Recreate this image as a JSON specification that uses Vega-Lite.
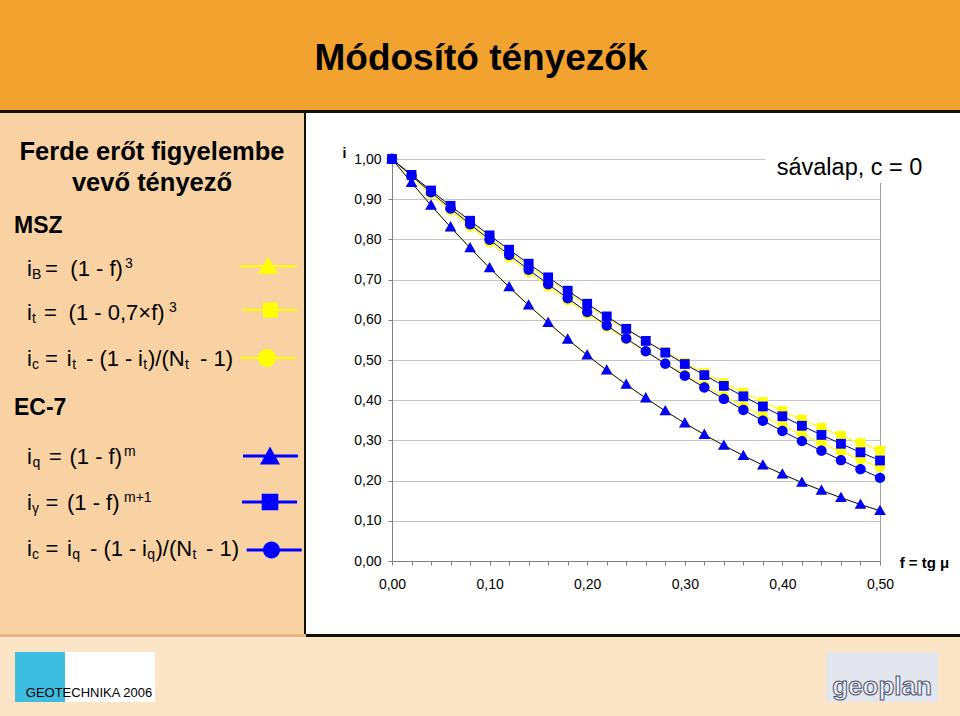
{
"$schema": "https://vega.github.io/schema/vega-lite/v6.json",
"padding": 0,
"background": "#FFFFFF",
"spacing": 0,
"bounds": "full",
"config": {
  "view": {"stroke": null},
  "concat": {"spacing": 0},
  "text": {"font": "Liberation Sans", "fontSize": 22, "align": "left", "baseline": "alphabetic", "color": "#000000"},
  "axis": {"labelFont": "Liberation Sans", "titleFont": "Liberation Sans"}
},
"vconcat": [
  {"width": 960, "height": 110, "view": {"fill": "#F2A22E"},
   "data": {"values": [{"t": "Módosító tényezők"}]},
   "mark": {"type": "text", "align": "center", "fontSize": 37, "fontWeight": "bold", "dy": 15, "dx": 1},
   "encoding": {"text": {"field": "t"}}},
  {"width": 960, "height": 3, "view": {"fill": "#141008"}, "data": {"values": []}, "mark": {"type": "point", "opacity": 0}},
  {"hconcat": [
    {"width": 304, "height": 521, "view": {"fill": "#F9D2A3"},
     "encoding": {"y": {"field": "row", "type": "quantitative", "scale": {"domain": [-2.601, 8.691], "reverse": true, "nice": false, "zero": false}, "axis": null}},
     "layer": [
       {"encoding": {"text": {"field": "t"}},
        "layer": [
          {"data": {"values": [{"row": -1, "t": "Ferde erőt figyelembe\nvevő tényező"}]}, "mark": {"type": "text", "align": "center", "fontSize": 25.5, "fontWeight": "bold", "lineBreak": "\n", "lineHeight": 31.5, "dy": -27}},
          {"data": {"values": [{"row": 0, "t": "MSZ"}]}, "mark": {"type": "text", "fontSize": 23, "fontWeight": "bold", "dx": -138}},
          {"data": {"values": [{"row": 1, "t": "i"}]}, "mark": {"type": "text", "dx": -125, "dy": -3}},
          {"data": {"values": [{"row": 1, "t": "B"}]}, "mark": {"type": "text", "fontSize": 14, "dx": -120, "dy": 0}},
          {"data": {"values": [{"row": 1, "t": "="}]}, "mark": {"type": "text", "dx": -107, "dy": -3}},
          {"data": {"values": [{"row": 1, "t": "(1 - f)"}]}, "mark": {"type": "text", "dx": -81.7, "dy": -3}},
          {"data": {"values": [{"row": 1, "t": "3"}]}, "mark": {"type": "text", "fontSize": 14, "dx": -27, "dy": -11}},
          {"data": {"values": [{"row": 2, "t": "i"}]}, "mark": {"type": "text", "dx": -125, "dy": -5}},
          {"data": {"values": [{"row": 2, "t": "t"}]}, "mark": {"type": "text", "fontSize": 14, "dx": -120, "dy": -2}},
          {"data": {"values": [{"row": 2, "t": "="}]}, "mark": {"type": "text", "dx": -108, "dy": -5}},
          {"data": {"values": [{"row": 2, "t": "(1 - 0,7×f)"}]}, "mark": {"type": "text", "dx": -83.4, "dy": -5}},
          {"data": {"values": [{"row": 2, "t": "3"}]}, "mark": {"type": "text", "fontSize": 14, "dx": 17, "dy": -13}},
          {"data": {"values": [{"row": 3, "t": "i"}]}, "mark": {"type": "text", "dx": -125, "dy": -5}},
          {"data": {"values": [{"row": 3, "t": "c"}]}, "mark": {"type": "text", "fontSize": 14, "dx": -120, "dy": -2}},
          {"data": {"values": [{"row": 3, "t": "="}]}, "mark": {"type": "text", "dx": -107, "dy": -5}},
          {"data": {"values": [{"row": 3, "t": "i"}]}, "mark": {"type": "text", "dx": -85.2, "dy": -5}},
          {"data": {"values": [{"row": 3, "t": "t"}]}, "mark": {"type": "text", "fontSize": 14, "dx": -79.8, "dy": -2}},
          {"data": {"values": [{"row": 3, "t": "- (1 -"}]}, "mark": {"type": "text", "dx": -66, "dy": -5}},
          {"data": {"values": [{"row": 3, "t": "i"}]}, "mark": {"type": "text", "dx": -14, "dy": -5}},
          {"data": {"values": [{"row": 3, "t": "t"}]}, "mark": {"type": "text", "fontSize": 14, "dx": -8.8, "dy": -2}},
          {"data": {"values": [{"row": 3, "t": ")/(N"}]}, "mark": {"type": "text", "dx": -4, "dy": -5}},
          {"data": {"values": [{"row": 3, "t": "t"}]}, "mark": {"type": "text", "fontSize": 14, "dx": 33, "dy": -2}},
          {"data": {"values": [{"row": 3, "t": "- 1)"}]}, "mark": {"type": "text", "dx": 48, "dy": -5}},
          {"data": {"values": [{"row": 4, "t": "EC-7"}]}, "mark": {"type": "text", "fontSize": 23, "fontWeight": "bold", "dx": -138, "dy": -3}},
          {"data": {"values": [{"row": 5, "t": "i"}]}, "mark": {"type": "text", "dx": -125, "dy": 0}},
          {"data": {"values": [{"row": 5, "t": "q"}]}, "mark": {"type": "text", "fontSize": 14, "dx": -119.5, "dy": 3}},
          {"data": {"values": [{"row": 5, "t": "="}]}, "mark": {"type": "text", "dx": -103, "dy": 0}},
          {"data": {"values": [{"row": 5, "t": "(1 - f)"}]}, "mark": {"type": "text", "dx": -82.5, "dy": 0}},
          {"data": {"values": [{"row": 5, "t": "m"}]}, "mark": {"type": "text", "fontSize": 14, "dx": -28, "dy": -8}},
          {"data": {"values": [{"row": 6, "t": "i"}]}, "mark": {"type": "text", "dx": -125, "dy": 0}},
          {"data": {"values": [{"row": 6, "t": "γ"}]}, "mark": {"type": "text", "fontSize": 14, "dx": -120, "dy": 3}},
          {"data": {"values": [{"row": 6, "t": "="}]}, "mark": {"type": "text", "dx": -106.5, "dy": 0}},
          {"data": {"values": [{"row": 6, "t": "(1 - f)"}]}, "mark": {"type": "text", "dx": -85, "dy": 0}},
          {"data": {"values": [{"row": 6, "t": "m+1"}]}, "mark": {"type": "text", "fontSize": 14, "dx": -28, "dy": -8}},
          {"data": {"values": [{"row": 7, "t": "i"}]}, "mark": {"type": "text", "dx": -125, "dy": 0}},
          {"data": {"values": [{"row": 7, "t": "c"}]}, "mark": {"type": "text", "fontSize": 14, "dx": -120, "dy": 3}},
          {"data": {"values": [{"row": 7, "t": "="}]}, "mark": {"type": "text", "dx": -106.5, "dy": 0}},
          {"data": {"values": [{"row": 7, "t": "i"}]}, "mark": {"type": "text", "dx": -85, "dy": 0}},
          {"data": {"values": [{"row": 7, "t": "q"}]}, "mark": {"type": "text", "fontSize": 14, "dx": -79.8, "dy": 3}},
          {"data": {"values": [{"row": 7, "t": "- (1 -"}]}, "mark": {"type": "text", "dx": -62, "dy": 0}},
          {"data": {"values": [{"row": 7, "t": "i"}]}, "mark": {"type": "text", "dx": -10, "dy": 0}},
          {"data": {"values": [{"row": 7, "t": "q"}]}, "mark": {"type": "text", "fontSize": 14, "dx": -4.8, "dy": 3}},
          {"data": {"values": [{"row": 7, "t": ")/(N"}]}, "mark": {"type": "text", "dx": 3.5, "dy": 0}},
          {"data": {"values": [{"row": 7, "t": "t"}]}, "mark": {"type": "text", "fontSize": 14, "dx": 40.5, "dy": 3}},
          {"data": {"values": [{"row": 7, "t": "- 1)"}]}, "mark": {"type": "text", "dx": 54, "dy": 0}}
        ]},
       {"data": {"values": [{"row": 1}]}, "mark": {"type": "point", "filled": true, "opacity": 1, "color": "#FFFF00", "size": 4, "shape": "M88,-14H145V-12H88Z M116,-22L126,-5.5H106Z"}},
       {"data": {"values": [{"row": 2}]}, "mark": {"type": "point", "filled": true, "opacity": 1, "color": "#FFFF00", "size": 4, "shape": "M91,-16.3H145V-14.3H91Z M111,-22.8H126V-7.8H111Z"}},
       {"data": {"values": [{"row": 3}]}, "mark": {"type": "point", "filled": true, "opacity": 1, "color": "#FFFF00", "size": 4, "shape": "M88,-14.4H144V-12.4H88Z M106,-13.4A9,9 0 1,1 124,-13.4A9,9 0 1,1 106,-13.4Z"}},
       {"data": {"values": [{"row": 5}]}, "mark": {"type": "point", "filled": true, "opacity": 1, "color": "#0000FF", "size": 4, "shape": "M91,-9.2H146V-6.2H91Z M118,-17.2L128,0.8H108Z"}},
       {"data": {"values": [{"row": 6}]}, "mark": {"type": "point", "filled": true, "opacity": 1, "color": "#0000FF", "size": 4, "shape": "M90,-9.4H145V-6.4H90Z M109.7,-16.2H126.3V0.4H109.7Z"}},
       {"data": {"values": [{"row": 7}]}, "mark": {"type": "point", "filled": true, "opacity": 1, "color": "#0000FF", "size": 4, "shape": "M94.7,-7.5H149.7V-4.5H94.7Z M111,-6A8.5,8.5 0 1,1 128,-6A8.5,8.5 0 1,1 111,-6Z"}}
     ]},
    {"width": 2, "height": 521, "view": {"fill": "#141008"}, "data": {"values": []}, "mark": {"type": "point", "opacity": 0}},
    {"vconcat": [
      {"width": 654, "height": 46, "data": {"values": []}, "mark": {"type": "point", "opacity": 0}},
      {"hconcat": [
        {"width": 86, "height": 402, "data": {"values": []}, "mark": {"type": "point", "opacity": 0}},
        {"width": 488, "height": 402,
         "view": {"stroke": "#A0A0A0", "strokeWidth": 1},
         "data": {"values": [
{"f":0,"iB":1,"it":1,"icM":1,"iq":1,"ig":1,"icE":1},
{"f":0.02,"iB":0.9412,"it":0.9586,"icM":0.9562,"iq":0.9412,"ig":0.9604,"icE":0.9581},
{"f":0.04,"iB":0.8847,"it":0.9183,"icM":0.9136,"iq":0.8847,"ig":0.9216,"icE":0.9171},
{"f":0.06,"iB":0.8306,"it":0.8792,"icM":0.8723,"iq":0.8306,"ig":0.8836,"icE":0.8769},
{"f":0.08,"iB":0.7787,"it":0.8412,"icM":0.8321,"iq":0.7787,"ig":0.8464,"icE":0.8376},
{"f":0.1,"iB":0.729,"it":0.8044,"icM":0.7932,"iq":0.729,"ig":0.81,"icE":0.7991},
{"f":0.12,"iB":0.6815,"it":0.7686,"icM":0.7553,"iq":0.6815,"ig":0.7744,"icE":0.7614},
{"f":0.14,"iB":0.6361,"it":0.7339,"icM":0.7186,"iq":0.6361,"ig":0.7396,"icE":0.7246},
{"f":0.16,"iB":0.5927,"it":0.7002,"icM":0.683,"iq":0.5927,"ig":0.7056,"icE":0.6887},
{"f":0.18,"iB":0.5514,"it":0.6676,"icM":0.6485,"iq":0.5514,"ig":0.6724,"icE":0.6536},
{"f":0.2,"iB":0.512,"it":0.6361,"icM":0.6152,"iq":0.512,"ig":0.64,"icE":0.6193},
{"f":0.22,"iB":0.4746,"it":0.6055,"icM":0.5828,"iq":0.4746,"ig":0.6084,"icE":0.5859},
{"f":0.24,"iB":0.439,"it":0.5759,"icM":0.5515,"iq":0.439,"ig":0.5776,"icE":0.5533},
{"f":0.26,"iB":0.4052,"it":0.5473,"icM":0.5213,"iq":0.4052,"ig":0.5476,"icE":0.5216},
{"f":0.28,"iB":0.3732,"it":0.5197,"icM":0.4921,"iq":0.3732,"ig":0.5184,"icE":0.4907},
{"f":0.3,"iB":0.343,"it":0.493,"icM":0.4639,"iq":0.343,"ig":0.49,"icE":0.4607},
{"f":0.32,"iB":0.3144,"it":0.4673,"icM":0.4367,"iq":0.3144,"ig":0.4624,"icE":0.4315},
{"f":0.34,"iB":0.2875,"it":0.4425,"icM":0.4105,"iq":0.2875,"ig":0.4356,"icE":0.4032},
{"f":0.36,"iB":0.2621,"it":0.4185,"icM":0.3851,"iq":0.2621,"ig":0.4096,"icE":0.3757},
{"f":0.38,"iB":0.2383,"it":0.3954,"icM":0.3607,"iq":0.2383,"ig":0.3844,"icE":0.349},
{"f":0.4,"iB":0.216,"it":0.3732,"icM":0.3372,"iq":0.216,"ig":0.36,"icE":0.3232},
{"f":0.42,"iB":0.1951,"it":0.3519,"icM":0.3147,"iq":0.1951,"ig":0.3364,"icE":0.2983},
{"f":0.44,"iB":0.1756,"it":0.3314,"icM":0.293,"iq":0.1756,"ig":0.3136,"icE":0.2742},
{"f":0.46,"iB":0.1575,"it":0.3117,"icM":0.2721,"iq":0.1575,"ig":0.2916,"icE":0.2509},
{"f":0.48,"iB":0.1406,"it":0.2928,"icM":0.2522,"iq":0.1406,"ig":0.2704,"icE":0.2285},
{"f":0.5,"iB":0.125,"it":0.2746,"icM":0.2329,"iq":0.125,"ig":0.25,"icE":0.2069}
         ]},
         "transform": [{"fold": ["iB","it","icM","iq","ig","icE"], "as": ["s","i"]}],
         "encoding": {
           "x": {"field": "f", "type": "quantitative", "scale": {"domain": [0, 0.5], "nice": false, "zero": false},
             "axis": {"values": [0,0.02,0.04,0.06,0.08,0.1,0.12,0.14,0.16,0.18,0.2,0.22,0.24,0.26,0.28,0.3,0.32,0.34,0.36,0.38,0.4,0.42,0.44,0.46,0.48,0.5],
               "labelExpr": "round(datum.value*100) % 10 == 0 ? replace(format(datum.value, '.2f'), '.', ',') : ''",
               "grid": false, "domainColor": "#808080", "tickColor": "#808080", "tickSize": 4,
               "labelFontSize": 14, "labelColor": "#000000", "labelPadding": 12, "labelFlush": false, "labelOverlap": false,
               "title": "f = tg μ", "titleFontSize": 15, "titleFontWeight": "bold", "titleColor": "#000000",
               "titleX": 532, "titleY": 6, "titleAlign": "center", "titleBaseline": "alphabetic"}},
           "y": {"field": "i", "type": "quantitative", "scale": {"domain": [0, 1], "nice": false, "zero": false},
             "axis": {"values": [0,0.1,0.2,0.3,0.4,0.5,0.6,0.7,0.8,0.9,1],
               "labelExpr": "replace(format(datum.value, '.2f'), '.', ',')",
               "grid": true, "gridColor": "#C4C4C4", "domainColor": "#808080", "tickColor": "#808080", "tickSize": 4,
               "labelFontSize": 14, "labelColor": "#000000", "labelPadding": 7, "labelFlush": false, "labelOverlap": false,
               "title": "i", "titleAngle": 0, "titleFontSize": 14, "titleFontWeight": "bold", "titleColor": "#000000",
               "titleX": -48, "titleY": -2, "titleAlign": "center", "titleBaseline": "alphabetic"}}
         },
         "layer": [
           {"transform": [{"filter": "datum.f == 0 && datum.s == 'iB'"}],
            "mark": {"type": "rect", "fill": "#FFFFFF", "opacity": 1},
            "encoding": {"x": {"datum": 0.3822}, "x2": {"datum": 0.57}, "y": {"datum": 0.94}, "y2": {"datum": 1.07}}},
           {"transform": [{"filter": "indexof(['iB','it','icM'], datum.s) >= 0"}],
            "mark": {"type": "line", "color": "#FFFF00", "strokeWidth": 1.2},
            "encoding": {"detail": {"field": "s"}}},
           {"transform": [{"filter": "indexof(['iB','it','icM'], datum.s) >= 0"}],
            "mark": {"type": "point", "filled": true, "opacity": 1, "color": "#FFFF00", "size": 4},
            "encoding": {"shape": {"field": "s", "type": "nominal", "legend": null,
              "scale": {"domain": ["iB","it","icM","iq","ig","icE"],
                "range": ["M0,-6L5.8,4.3H-5.8Z","M-4.9,-4.9H4.9V4.9H-4.9Z","M-5.2,0A5.2,5.2 0 1,1 5.2,0A5.2,5.2 0 1,1 -5.2,0Z","M0,-6L5.8,4.3H-5.8Z","M-4.9,-4.9H4.9V4.9H-4.9Z","M-5.2,0A5.2,5.2 0 1,1 5.2,0A5.2,5.2 0 1,1 -5.2,0Z"]}}}},
           {"transform": [{"filter": "indexof(['iq','ig','icE'], datum.s) >= 0"}],
            "mark": {"type": "line", "color": "#000080", "strokeWidth": 1},
            "encoding": {"detail": {"field": "s"}}},
           {"transform": [{"filter": "indexof(['iq','ig','icE'], datum.s) >= 0"}],
            "mark": {"type": "point", "filled": true, "opacity": 1, "color": "#0000FF", "size": 4},
            "encoding": {"shape": {"field": "s", "type": "nominal", "legend": null}}},
           {"transform": [{"filter": "datum.f == 0 && datum.s == 'iB'"}],
            "mark": {"type": "text", "align": "center", "fontSize": 23.5},
            "encoding": {"x": {"datum": 0.4688}, "y": {"datum": 0.96}, "text": {"value": "sávalap, c = 0"}}}
         ]},
        {"width": 80, "height": 402, "data": {"values": []}, "mark": {"type": "point", "opacity": 0}}
      ], "spacing": 0, "bounds": "flush"}
    ], "spacing": 0, "bounds": "flush"}
  ], "spacing": 0, "bounds": "flush"},
  {"hconcat": [
    {"width": 306, "height": 3, "view": {"fill": "#E2B583"}, "data": {"values": []}, "mark": {"type": "point", "opacity": 0}},
    {"width": 654, "height": 3, "view": {"fill": "#141008"}, "data": {"values": []}, "mark": {"type": "point", "opacity": 0}}
  ], "spacing": 0, "bounds": "flush"},
  {"vconcat": [
    {"width": 960, "height": 15, "view": {"fill": "#FCE4C6"}, "data": {"values": []}, "mark": {"type": "point", "opacity": 0}},
    {"hconcat": [
      {"width": 15, "height": 50, "view": {"fill": "#FCE4C6"}, "data": {"values": []}, "mark": {"type": "point", "opacity": 0}},
      {"width": 50, "height": 50, "view": {"fill": "#3DBDE0"}, "data": {"values": []}, "mark": {"type": "point", "opacity": 0}},
      {"width": 90, "height": 50, "view": {"fill": "#FFFFFF"},
       "data": {"values": [{"t": "GEOTECHNIKA 2006"}]},
       "mark": {"type": "text", "align": "center", "fontSize": 13, "dx": -21, "dy": 20},
       "encoding": {"text": {"field": "t"}}},
      {"width": 671, "height": 50, "view": {"fill": "#FCE4C6"}, "data": {"values": []}, "mark": {"type": "point", "opacity": 0}},
      {"width": 112, "height": 50, "view": {"fill": "#E4E6EE"},
       "data": {"values": [{"t": "geoplan"}]},
       "mark": {"type": "text", "align": "center", "fontSize": 26, "fontWeight": "bold", "fill": "#EEF0F6", "stroke": "#4A5472", "strokeWidth": 1, "dy": 18},
       "encoding": {"text": {"field": "t"}}},
      {"width": 22, "height": 50, "view": {"fill": "#FCE4C6"}, "data": {"values": []}, "mark": {"type": "point", "opacity": 0}}
    ], "spacing": 0, "bounds": "flush"},
    {"width": 960, "height": 14, "view": {"fill": "#FCE4C6"}, "data": {"values": []}, "mark": {"type": "point", "opacity": 0}}
  ], "spacing": 0, "bounds": "full"}
]
}
